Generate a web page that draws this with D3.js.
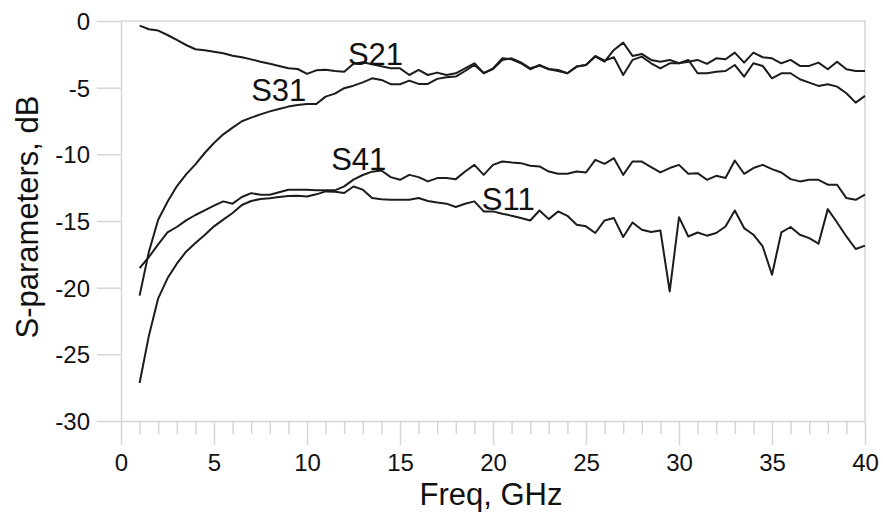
<!doctype html>
<html>
<head>
    <meta charset="UTF-8">
    <title>S-parameters</title>
    <script src="https://d3js.org/d3.v7.min.js"></script>
    <style>
        body { margin: 0; background: #fff; }
        text { font-family: "Liberation Sans", Arial, sans-serif; fill: #111; }
    </style>
</head>
<body>
    <script>
        // frequency points, GHz
        var freq = [1, 1.5, 2, 2.5, 3, 3.5, 4, 4.5, 5, 5.5, 6, 6.5, 7, 7.5, 8, 8.5, 9, 9.5, 10, 10.5,
                    11, 11.5, 12, 12.5, 13, 13.5, 14, 14.5, 15, 15.5, 16, 16.5, 17, 17.5, 18, 18.5, 19, 19.5, 20, 20.5,
                    21, 21.5, 22, 22.5, 23, 23.5, 24, 24.5, 25, 25.5, 26, 26.5, 27, 27.5, 28, 28.5, 29, 29.5, 30, 30.5,
                    31, 31.5, 32, 32.5, 33, 33.5, 34, 34.5, 35, 35.5, 36, 36.5, 37, 37.5, 38, 38.5, 39, 39.5, 40];

        var s21 = [-0.35, -0.62, -0.72, -1.05, -1.42, -1.8, -2.12, -2.2, -2.3, -2.42, -2.6, -2.72, -2.88, -3.05, -3.2, -3.37, -3.55, -3.6, -3.97, -3.7,
                   -3.65, -3.75, -3.8, -3.2, -3.1, -3.25, -3.4, -3.55, -3.55, -4.05, -3.67, -4.05, -3.87, -4.05, -3.92, -3.55, -3.17, -3.92, -3.55, -2.8,
                   -2.87, -3.17, -3.62, -3.3, -3.62, -3.75, -3.92, -3.42, -3.3, -2.67, -3.05, -2.17, -1.62, -2.62, -2.47, -2.92, -3.05, -2.92, -3.17, -3.05,
                   -2.92, -3.22, -2.8, -2.87, -2.37, -3.12, -2.37, -2.72, -2.8, -3.17, -2.92, -3.37, -3.37, -3.12, -3.62, -3.05, -3.62, -3.75, -3.75];

        var s31 = [-20.6, -17.3, -14.9, -13.55, -12.4, -11.5, -10.75, -9.9, -9.15, -8.5, -8.0, -7.52, -7.25, -7.0, -6.78, -6.6, -6.42, -6.3, -6.22, -6.22,
                   -5.67, -5.45, -5.04, -4.85, -4.6, -4.3, -4.42, -4.74, -4.74, -4.47, -4.72, -4.72, -4.34, -4.22, -4.17, -3.75, -3.3, -3.9, -3.6, -2.92,
                   -2.8, -3.1, -3.55, -3.35, -3.6, -3.67, -3.92, -3.42, -3.3, -2.62, -2.97, -2.72, -4.05, -2.92, -2.67, -3.17, -3.55, -3.17, -3.17, -2.92,
                   -3.92, -3.92, -3.8, -3.75, -3.3, -4.17, -3.17, -3.37, -4.3, -3.92, -3.92, -4.37, -4.62, -4.87, -4.74, -4.92, -5.42, -6.12, -5.62];

        var s41 = [-18.53, -17.7, -16.75, -15.85, -15.45, -14.95, -14.55, -14.2, -13.85, -13.53, -13.7, -13.2, -12.91, -13.03, -13.03, -12.85, -12.66, -12.66, -12.66, -12.7,
                   -12.7, -12.7, -12.4, -11.9, -11.55, -11.3, -11.21, -11.71, -11.91, -11.54, -11.71, -12.03, -11.78, -11.78, -11.86, -11.29, -10.79, -11.54, -10.79, -10.54,
                   -10.61, -10.66, -10.86, -10.91, -11.29, -11.46, -11.46, -11.29, -11.36, -10.41, -10.71, -10.29, -11.54, -10.54, -10.54, -10.96, -11.36, -11.03, -10.79, -11.46,
                   -11.41, -11.91, -11.61, -11.78, -10.46, -11.46, -11.03, -10.79, -11.11, -11.36, -11.86, -12.03, -11.91, -11.91, -12.28, -12.28, -13.28, -13.41, -13.03];

        var s11 = [-27.15, -23.6, -20.8, -19.3, -18.2, -17.3, -16.65, -16.05, -15.4, -14.9, -14.4, -13.8, -13.5, -13.35, -13.3, -13.2, -13.12, -13.1, -13.16, -13.0,
                   -12.78, -12.8, -12.9, -12.41, -12.65, -13.28, -13.36, -13.4, -13.41, -13.41, -13.28, -13.5, -13.62, -13.7, -13.95, -13.71, -13.53, -14.28, -14.28, -14.46,
                   -14.6, -14.78, -14.96, -14.21, -14.86, -14.28, -14.61, -15.28, -15.4, -15.9, -14.96, -14.78, -16.2, -15.11, -15.66, -15.83, -15.71, -20.28, -14.71, -16.16,
                   -15.86, -16.1, -15.9, -15.41, -14.21, -15.53, -16.03, -16.91, -19.03, -15.86, -15.45, -16.03, -16.28, -16.7, -14.11, -15.11, -16.16, -17.1, -16.85];

        var xTicks = [0, 5, 10, 15, 20, 25, 30, 35, 40];
        var yTicks = [-30, -25, -20, -15, -10, -5, 0];
        var labels = [
            {name: "S21", f: 12.2, db: -3.3},
            {name: "S31", f: 7.0, db: -6.0},
            {name: "S41", f: 11.3, db: -11.2},
            {name: "S11", f: 19.4, db: -14.15}
        ];

        var w = 883, h = 514;
        var x = d3.scaleLinear().domain([0, 40]).range([121, 865]);
        var y = d3.scaleLinear().domain([-30, 0]).range([421, 21]);
        var axisColor = "#d6d6d6";
        var plain = function(d){ return String(d); };

        var svg = d3.select("body").append("svg")
            .attr("width", w)
            .attr("height", h);

        // minor ticks on x
        var minor = d3.range(0, 41).filter(function(d){ return d % 5 != 0; });
        svg.append("g")
            .attr("transform", "translate(0," + y(-30) + ")")
            .call(d3.axisBottom(x).tickValues(minor).tickSize(13).tickSizeOuter(0).tickFormat(""))
            .call(function(g){ g.select(".domain").remove(); });

        var gx = svg.append("g")
            .attr("transform", "translate(0," + y(-30) + ")")
            .call(d3.axisBottom(x).tickValues(xTicks).tickFormat(plain).tickSize(24).tickSizeOuter(0).tickPadding(9));
        gx.selectAll("text").attr("font-size", 24).attr("font-family", null);

        var gy = svg.append("g")
            .attr("transform", "translate(" + x(0) + ",0)")
            .call(d3.axisLeft(y).tickValues(yTicks).tickFormat(plain).tickSize(24).tickSizeOuter(0).tickPadding(7));
        gy.selectAll("text").attr("font-size", 24).attr("font-family", null).attr("dy", "0.36em");

        svg.selectAll(".domain, .tick line")
            .attr("stroke", axisColor)
            .attr("stroke-width", 1.5);

        // top and right border
        svg.append("path")
            .attr("d", "M" + x(0) + "," + y(0) + "H" + x(40) + "V" + y(-30))
            .attr("fill", "none")
            .attr("stroke", axisColor)
            .attr("stroke-width", 1.5);

        var line = d3.line()
            .x(function(d, i){ return x(freq[i]); })
            .y(function(d){ return y(d); });

        svg.selectAll("path.series")
            .data([s21, s31, s41, s11])
            .enter().append("path")
            .attr("class", "series")
            .attr("d", line)
            .attr("fill", "none")
            .attr("stroke", "#1c1c1c")
            .attr("stroke-width", 2)
            .attr("stroke-linejoin", "round");

        svg.selectAll("text.lbl")
            .data(labels)
            .enter().append("text")
            .attr("class", "lbl")
            .attr("x", function(d){ return x(d.f); })
            .attr("y", function(d){ return y(d.db); })
            .attr("font-size", 31)
            .text(function(d){ return d.name; });

        svg.append("text")
            .attr("x", 491)
            .attr("y", 505)
            .attr("text-anchor", "middle")
            .attr("font-size", 31)
            .text("Freq, GHz");

        svg.append("text")
            .attr("transform", "translate(38,217) rotate(-90)")
            .attr("text-anchor", "middle")
            .attr("font-size", 31)
            .text("S-parameters, dB");
    </script>
</body>
</html>
